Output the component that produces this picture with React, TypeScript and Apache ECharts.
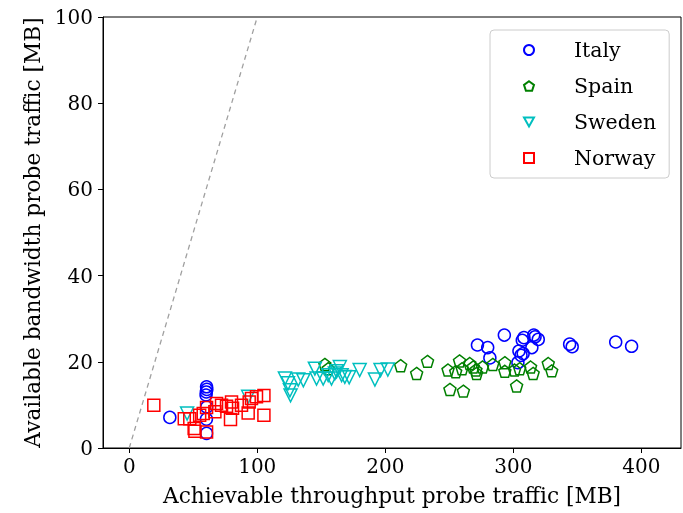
import React, { useEffect, useRef } from "react";
import * as echarts from "echarts";

const xTicks = [0, 100, 200, 300, 400];
const yTicks = [0, 20, 40, 60, 80, 100];

const italyX = [31.7, 60.4, 60.6, 60.2, 60.0, 60.5, 60.3, 60.4, 272, 280, 281.7, 293, 308.3, 307, 304.4, 306, 303.6, 307.7, 316, 317, 319.5, 314.5, 344, 346, 380, 392.4];
const italyY = [7.1, 14.2, 13.6, 13.0, 12.3, 9.5, 6.7, 3.4, 23.9, 23.3, 20.9, 26.2, 25.6, 25.0, 22.5, 21.5, 19.8, 21.9, 26.2, 25.8, 25.2, 23.3, 24.1, 23.5, 24.6, 23.6];

const spainX = [152.8, 155.4, 212, 224.5, 233, 249, 250.5, 255, 258, 260, 261, 266, 268.7, 270.8, 271.3, 276, 284, 293.4, 293.4, 301, 302.6, 305, 313.5, 315.5, 327.3, 330];
const spainY = [19.4, 18.4, 19.1, 17.3, 20.1, 18.1, 13.6, 17.7, 20.2, 18.4, 13.2, 19.6, 18.8, 18.1, 17.3, 18.8, 19.4, 19.8, 17.8, 18.1, 14.4, 18.4, 18.8, 17.3, 19.6, 17.9];

const swedenX = [45.2, 92.9, 121.6, 124, 125.5, 126, 132, 136, 145, 146.3, 151.5, 155.4, 158, 160.6, 164.5, 165.9, 168.4, 171.8, 162, 180, 191.9, 196.3, 202];
const swedenY = [8.0, 11.9, 16.1, 15.0, 13.4, 12.2, 15.9, 15.7, 18.4, 16.1, 16.1, 16.9, 16.1, 17.3, 18.8, 16.9, 16.5, 16.4, 17.8, 18.1, 15.9, 18.1, 18.2];

const norwayX = [19.2, 43, 47.3, 50.7, 51.3, 55, 57.8, 60.4, 60.4, 66.9, 68.2, 72.1, 76, 79.1, 79.9, 80.7, 87.7, 92.9, 93.7, 95.5, 99.4, 105.2, 105.2];
const norwayY = [9.9, 6.8, 6.8, 4.5, 3.9, 7.6, 8.0, 9.4, 3.7, 8.4, 10.3, 9.9, 9.7, 6.6, 10.7, 9.2, 9.9, 8.1, 10.7, 11.5, 11.9, 12.2, 7.6];

const diagonalX = [0, 100];
const diagonalY = [0, 100];

const FONT = "DejaVu Serif";

const zip = (xs: number[], ys: number[]) => xs.map((x, i) => [x, ys[i]]);

const PENTAGON = "path://M0,-1 L0.951,-0.309 L0.588,0.809 L-0.588,0.809 L-0.951,-0.309 Z";
const TRI_DOWN = "path://M-1,-0.8 L1,-0.8 L0,1 Z";

export default function App() {
  const ref = useRef<HTMLDivElement>(null);
  useEffect(() => {
    if (!ref.current) return;
    const chart = echarts.init(ref.current, undefined, { renderer: "svg" });
    const mk = (name: string, xs: number[], ys: number[], color: string, symbol: string, size: number) => ({
      name,
      type: "scatter",
      data: zip(xs, ys),
      symbol,
      symbolSize: size,
      itemStyle: { color: "rgba(0,0,0,0)", borderColor: color, borderWidth: 1.5, opacity: 1 },
      emphasis: { disabled: true },
      z: 3,
    });
    chart.setOption({
      animation: false,
      grid: { left: 103, top: 17, width: 578, height: 431, show: true, borderColor: "#000", borderWidth: 1, backgroundColor: "transparent" },
      xAxis: {
        type: "value",
        min: -20.5,
        max: 431,
        name: "Achievable throughput probe traffic [MB]",
        nameLocation: "middle",
        nameGap: 36,
        nameTextStyle: { fontFamily: FONT, fontSize: 21.7, color: "#000" },
        axisLine: { show: true, onZero: false, lineStyle: { color: "#000", width: 1 } },
        axisTick: { show: true, inside: false, length: 5, customValues: xTicks, lineStyle: { color: "#000" } },
        axisLabel: { customValues: xTicks, fontFamily: FONT, fontSize: 20, color: "#000", margin: 8 },
        splitLine: { show: false },
      },
      yAxis: {
        type: "value",
        min: 0,
        max: 100,
        interval: 20,
        name: "Available bandwidth probe traffic [MB]",
        nameLocation: "middle",
        nameGap: 57,
        nameTextStyle: { fontFamily: FONT, fontSize: 21.7, color: "#000" },
        axisLine: { show: true, onZero: false, lineStyle: { color: "#000", width: 1 } },
        axisTick: { show: true, inside: false, length: 5, lineStyle: { color: "#000" } },
        axisLabel: { fontFamily: FONT, fontSize: 20, color: "#000", margin: 10, formatter: (v: number) => (yTicks.includes(v) ? String(v) : "") },
        splitLine: { show: false },
      },
      legend: {
        orient: "vertical",
        left: 490,
        top: 30,
        padding: [9, 13, 9, 33],
        itemWidth: 10,
        itemHeight: 10,
        itemGap: 14,
        backgroundColor: "#fff",
        borderColor: "#ccc",
        borderWidth: 1,
        borderRadius: 4,
        textStyle: { fontFamily: FONT, fontSize: 20.5, color: "#000", lineHeight: 22, padding: [0, 0, 0, 35] },
        data: ["Italy", "Spain", "Sweden", "Norway"],
      },
      series: [
        {
          type: "line",
          data: zip(diagonalX, diagonalY),
          symbol: "none",
          lineStyle: { color: "#a0a0a0", width: 1.3, type: [5, 4] },
          silent: true,
          z: 1,
        },
        mk("Italy", italyX, italyY, "#0000ff", "circle", 12),
        mk("Spain", spainX, spainY, "#008000", PENTAGON, 12),
        mk("Sweden", swedenX, swedenY, "#00bfbf", TRI_DOWN, 13),
        mk("Norway", norwayX, norwayY, "#ff0000", "rect", 12),
      ],
    });
    return () => chart.dispose();
  }, []);
  return <div ref={ref} style={{ position: "fixed", left: 0, top: 0, width: 683, height: 513 }} />;
}
